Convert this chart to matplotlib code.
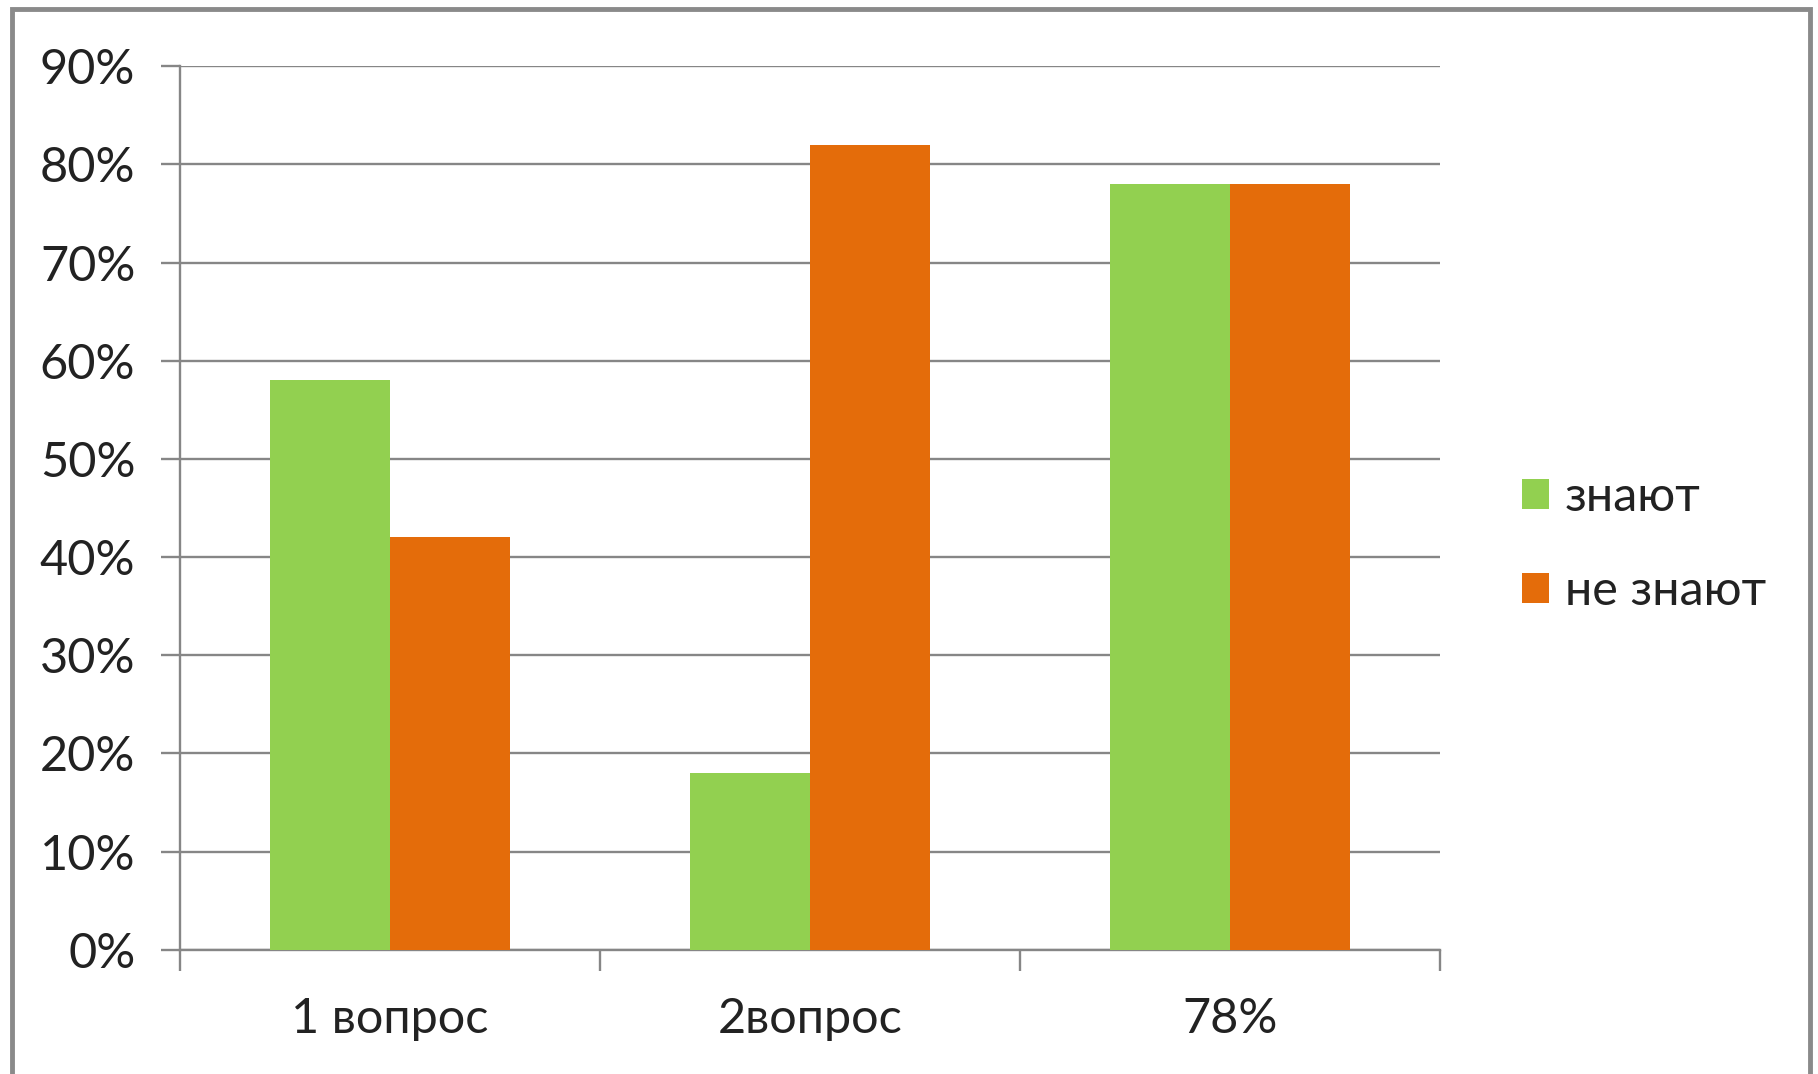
import numpy as np
import matplotlib
matplotlib.use('Agg')
import matplotlib.pyplot as plt
from matplotlib.patches import Rectangle

plt.rcParams['font.family'] = ['Lato', 'DejaVu Sans']

# data
categories = ['1 вопрос', '2вопрос', '78%']
know = [58, 18, 78]
dont_know = [42, 82, 78]
series_names = ['знают', 'не знают']
y_ticks = [0, 10, 20, 30, 40, 50, 60, 70, 80, 90]

green = '#92D050'
orange = '#E46C0A'
grid_gray = '#868686'
fs = 35

fig = plt.figure(figsize=(18.18, 10.74), dpi=100)
ax = fig.add_axes([0.0989, 0.1156, 0.6932, 0.8228])

x = np.arange(len(categories))
w = 0.285
ax.bar(x - w / 2, know, width=w, color=green, label=series_names[0], zorder=3)
ax.bar(x + w / 2, dont_know, width=w, color=orange, label=series_names[1], zorder=3)

ax.set_xlim(-0.5, len(categories) - 0.5)
ax.set_ylim(0, 90)
ax.set_yticks(y_ticks)
ax.set_yticklabels([f'{v}%' for v in y_ticks])

# category labels sit between the boundary ticks
ax.set_xticks(np.arange(len(categories) + 1) - 0.5)
ax.set_xticklabels([])
ax.set_xticks(x, minor=True)
ax.set_xticklabels(categories, minor=True)
ax.tick_params(axis='x', which='minor', length=0, pad=34, labelsize=fs, colors='#222222')
ax.tick_params(axis='x', which='major', length=15, width=1.7, color=grid_gray, direction='out')
ax.tick_params(axis='y', length=14, width=1.7, color=grid_gray, pad=18, labelsize=fs,
               labelcolor='#222222')

ax.yaxis.grid(True, color=grid_gray, linewidth=1.7, zorder=0)
for side in ['top', 'right']:
    ax.spines[side].set_visible(False)
ax.spines['left'].set_color(grid_gray)
ax.spines['left'].set_linewidth(1.7)
ax.spines['bottom'].set_color(grid_gray)
ax.spines['bottom'].set_linewidth(1.7)

fig.legend(loc='center left', bbox_to_anchor=(0.837, 0.4935), frameon=False,
           fontsize=fs, handlelength=0.57, handleheight=0.57, handletextpad=0.32,
           labelspacing=1.02, borderpad=0, borderaxespad=0, labelcolor='#222222')

# outer frame of the slide picture
fig.patches.append(Rectangle((0.0064, -0.02), 0.9891, 1.0115, transform=fig.transFigure,
                             fill=False, edgecolor='#8a8a8a', linewidth=3.5))

fig.savefig('out.png', dpi=100)
